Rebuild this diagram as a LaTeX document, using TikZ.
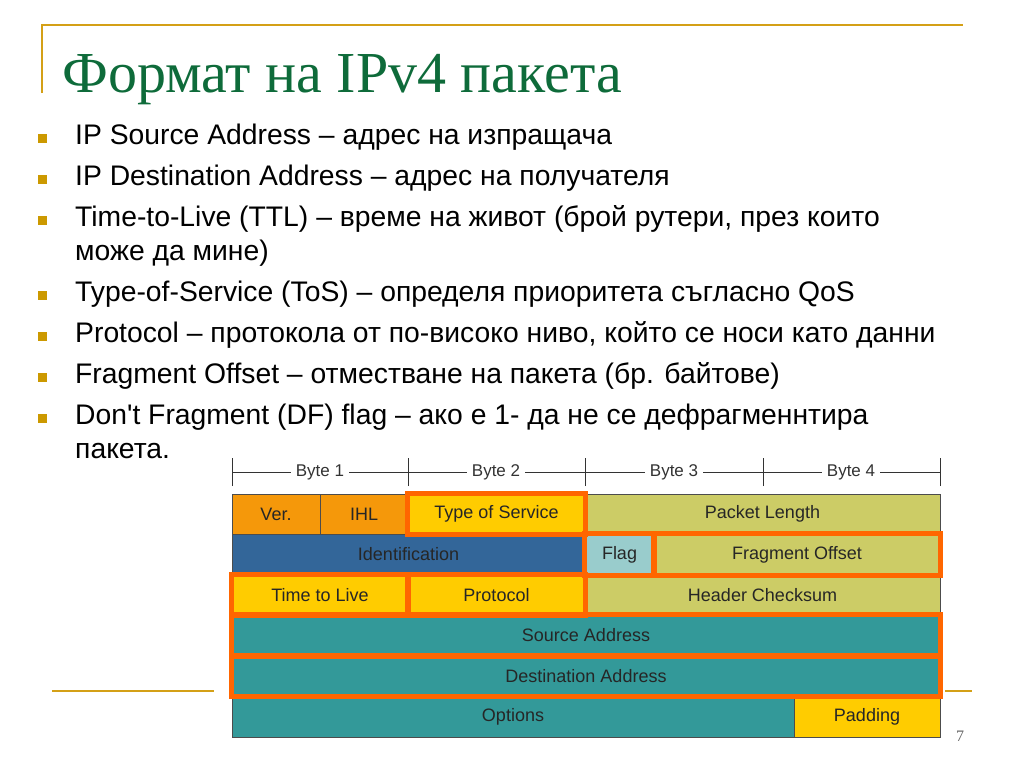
\documentclass[tikz,border=0pt]{standalone}
\usepackage{fontspec}
\setmainfont{Liberation Sans}[Ligatures=TeXOff]
\newfontfamily\titlefont{Liberation Serif}
\definecolor{gold}{RGB}{212,160,23}
\definecolor{bulgold}{RGB}{204,153,0}
\definecolor{titlegreen}{RGB}{14,107,58}
\definecolor{verorange}{RGB}{245,152,10}
\definecolor{tosyellow}{RGB}{255,204,0}
\definecolor{olive}{RGB}{204,204,102}
\definecolor{idblue}{RGB}{51,102,153}
\definecolor{flagblue}{RGB}{153,204,204}
\definecolor{teal}{RGB}{51,153,153}
\definecolor{hlorange}{RGB}{255,102,0}
\begin{document}
\begin{tikzpicture}
  [x=1pt,y=-1pt,
   item/.style={anchor=base west,inner sep=0,font=\fontsize{28.3}{32}\selectfont},
   bul/.style={fill=bulgold,minimum size=9,inner sep=0},
   cell/.style={draw=black!70,line width=0.8,inner sep=0,text=black!85,font=\fontsize{18}{21}\selectfont},
   bytelbl/.style={fill=white,inner sep=5,text=black!80,font=\fontsize{17}{20}\selectfont},
   hilite/.style={draw=hlorange,line width=4.5},
   goldline/.style={gold,line width=2}]
    \useasboundingbox (0,0) rectangle (1024,768);

    % frame of the slide
    \draw[goldline] (42,93) -- (42,25) -- (963,25);
    \draw[goldline] (52,691) -- (214,691);
    \draw[goldline] (945,691) -- (972,691);

    \node (title) [anchor=base west,inner sep=0,text=titlegreen,font=\titlefont\fontsize{58}{64}\selectfont] at (62,92) {Формат на IPv4 пакета};

    \node (b1) [bul] at (42,138) {};
    \node (b2) [bul] at (42,179) {};
    \node (b3) [bul] at (42,220) {};
    \node (b4) [bul] at (42,295) {};
    \node (b5) [bul] at (42,336) {};
    \node (b6) [bul] at (42,377) {};
    \node (b7) [bul] at (42,418) {};

    \node (t1)  [item] at (75,144) {IP Source Address – адрес на изпращача};
    \node (t2)  [item] at (75,185) {IP Destination Address – адрес на получателя};
    \node (t3)  [item] at (75,226) {Time-to-Live (TTL) – време на живот (брой рутери, през които};
    \node (t3b) [item] at (75,260) {може да мине)};
    \node (t4)  [item] at (75,301) {Type-of-Service (ToS) – определя приоритета съгласно QoS};
    \node (t5)  [item] at (75,342) {Protocol – протокола от по-високо ниво, който се носи като данни};
    \node (t6)  [item] at (75,383) {Fragment Offset – отместване на пакета (бр. байтове)};
    \node (t7)  [item] at (75,424) {Don't Fragment (DF) flag – ако е 1- да не се дефрагменнтира};
    \node (t7b) [item] at (75,458) {пакета.};

    % byte ruler
    \coordinate (k0) at (232,472);
    \coordinate (k1) at (408,472);
    \coordinate (k2) at (585,472);
    \coordinate (k3) at (763,472);
    \coordinate (k4) at (940,472);
    \draw[black!80,line width=0.8] (k0) -- (k4);
    \foreach \k in {k0,k1,k2,k3,k4}
      \draw[black!80,line width=0.8] ([yshift=-14]\k) -- ([yshift=14]\k);
    \node (byte1) [bytelbl] at (320,472) {Byte 1};
    \node (byte2) [bytelbl] at (496,472) {Byte 2};
    \node (byte3) [bytelbl] at (674,472) {Byte 3};
    \node (byte4) [bytelbl] at (851,472) {Byte 4};

    % header fields
    \node (ver)   [cell,fill=verorange,minimum width=88,minimum height=40]  at (276,514)   {Ver.};
    \node (ihl)   [cell,fill=verorange,minimum width=88,minimum height=40]  at (364,514)   {IHL};
    \node (tos)   [cell,fill=tosyellow,minimum width=177,minimum height=40] at (496.5,514) {Type of Service};
    \node (plen)  [cell,fill=olive,minimum width=355,minimum height=40]     at (762.5,514) {Packet Length};
    \node (ident) [cell,fill=idblue,minimum width=353,minimum height=41]    at (408.5,554.5) {Identification};
    \node (flag)  [cell,fill=flagblue,minimum width=69,minimum height=41]   at (619.5,554.5) {Flag};
    \node (frag)  [cell,fill=olive,minimum width=286,minimum height=41]     at (797,554.5) {Fragment Offset};
    \node (ttl)   [cell,fill=tosyellow,minimum width=176,minimum height=40] at (320,595)   {Time to Live};
    \node (proto) [cell,fill=tosyellow,minimum width=177,minimum height=40] at (496.5,595) {Protocol};
    \node (chk)   [cell,fill=olive,minimum width=355,minimum height=40]     at (762.5,595) {Header Checksum};
    \node (src)   [cell,fill=teal,minimum width=708,minimum height=41]      at (586,635.5) {Source Address};
    \node (dst)   [cell,fill=teal,minimum width=708,minimum height=40]      at (586,676)   {Destination Address};
    \node (opt)   [cell,fill=teal,minimum width=562,minimum height=41]      at (513,716.5) {Options};
    \node (pad)   [cell,fill=tosyellow,minimum width=146,minimum height=41] at (867,716.5) {Padding};

    \foreach \c in {tos,flag,frag,ttl,proto,src,dst}
      \draw[hilite] (\c.north west) rectangle (\c.south east);

    \node (pageno) [text=black!60,font=\titlefont\fontsize{16}{18}\selectfont] at (960,736) {7};
  \end{tikzpicture}
\end{document}
